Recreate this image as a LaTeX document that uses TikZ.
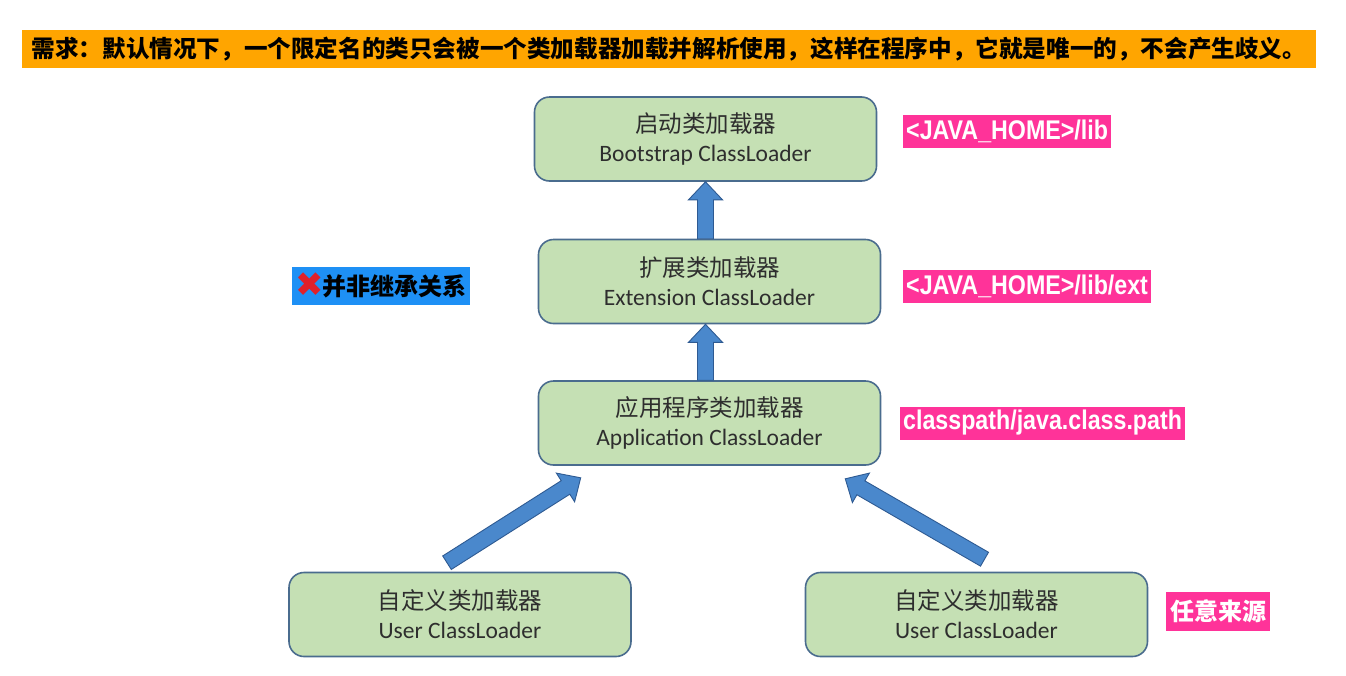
\documentclass[tikz,border=0pt]{standalone}
\usepackage{fontspec}
\setmainfont{Carlito}
\newfontfamily\cjk{Noto Sans CJK SC}
\newfontfamily\labfont[FakeStretch=0.86]{Liberation Sans}
\newfontfamily\symfont{DejaVu Sans}
\usetikzlibrary{calc}
\definecolor{bannerorange}{HTML}{FFA500}
\definecolor{boxfill}{HTML}{C5E0B4}
\definecolor{boxedge}{HTML}{4A6C8E}
\definecolor{boxtext}{HTML}{2E2E2E}
\definecolor{arrowfill}{HTML}{4A88CC}
\definecolor{arrowedge}{HTML}{2E5A92}
\definecolor{labpink}{HTML}{FF3399}
\definecolor{labblue}{HTML}{1E90F5}
\definecolor{xred}{HTML}{E0202A}
\newcommand\blockarrow[2]{%
  \coordinate (hbtmp) at ($(#2)!18pt!(#1)$);
  \draw[blockarr] ($(#1)!8pt!90:(#2)$) -- ($(hbtmp)!8pt!90:(#2)$) -- ($(hbtmp)!17pt!90:(#2)$) -- (#2)
     -- ($(hbtmp)!17pt!-90:(#2)$) -- ($(hbtmp)!8pt!-90:(#2)$) -- ($(#1)!8pt!-90:(#2)$) -- cycle;}
\newcommand\loadertext[2]{{\cjk #1}\\{#2}}
\begin{document}
\begin{tikzpicture}[x=1pt,y=-1pt,
  loader/.style={draw=boxedge, line width=1.6pt, fill=boxfill, rounded corners=15pt,
    minimum width=342pt, minimum height=84pt, align=center, text=boxtext, inner sep=0pt,
    font=\fontsize{23.5pt}{29pt}\selectfont},
  blockarr/.style={draw=arrowedge, line width=0.9pt, fill=arrowfill, line join=miter},
  pinklab/.style={fill=labpink, text=white, anchor=west, inner xsep=3pt, inner ysep=0pt, minimum height=33pt},
  banner/.style={fill=bannerorange, text=black, minimum width=1294pt, minimum height=38pt, inner sep=0pt}
]
\useasboundingbox (0,0) rectangle (1346,675);
\fill[white] (0,0) rectangle (1346,675);

\node[banner] (req) at (669,49) {\cjk\bfseries\fontsize{23.6pt}{28pt}\selectfont 需求：默认情况下，一个限定名的类只会被一个类加载器加载并解析使用，这样在程序中，它就是唯一的，不会产生歧义。};

\node[loader] (boot) at (705.5,139) {\loadertext{启动类加载器}{Bootstrap ClassLoader}};
\node[loader] (ext) at (709.5,281.5) {\loadertext{扩展类加载器}{Extension ClassLoader}};
\node[loader] (app) at (709.5,423) {\loadertext{应用程序类加载器}{Application ClassLoader}};
\node[loader] (user1) at (460,614.5) {\loadertext{自定义类加载器}{User ClassLoader}};
\node[loader] (user2) at (976.5,614.5) {\loadertext{自定义类加载器}{User ClassLoader}};

\node[pinklab] (libl) at (903,131.5) {\labfont\bfseries\fontsize{27pt}{30pt}\selectfont <JAVA\_HOME>/lib};
\node[pinklab] (extl) at (903,286.5) {\labfont\bfseries\fontsize{27pt}{30pt}\selectfont <JAVA\_HOME>/lib/ext};
\node[pinklab] (cpl) at (900,423) {\labfont\bfseries\fontsize{27pt}{30pt}\selectfont classpath/java.class.path};
\node[pinklab, minimum height=39pt, inner xsep=4pt] (anyl) at (1166,611.5) {\cjk\bfseries\fontsize{24pt}{28pt}\selectfont 任意来源};
\node[fill=labblue, anchor=west, minimum height=38pt, inner xsep=3pt, inner ysep=0pt] (notinh) at (292,286)
  {\smash{\raisebox{-1pt}{\symfont\color{xred}\fontsize{34pt}{34pt}\selectfont ✖}}\hspace{-1pt}{\cjk\bfseries\fontsize{24pt}{28pt}\selectfont 并非继承关系}};

\coordinate (a1t) at (boot.south |- ext.north);
\coordinate (a1h) at (boot.south);
\coordinate (a2t) at (boot.south |- app.north);
\coordinate (a2h) at (boot.south |- ext.south);
\coordinate (a3t) at ($(user1.north)+(-13,-9)$);
\coordinate (a3h) at ($(app.south west)+(43,12)$);
\coordinate (a4t) at ($(user2.north)+(8,-12.5)$);
\coordinate (a4h) at ($(app.south east)+(-36,13)$);
\blockarrow{a1t}{a1h}
\blockarrow{a2t}{a2h}
\blockarrow{a3t}{a3h}
\blockarrow{a4t}{a4h}
\end{tikzpicture}
\end{document}
